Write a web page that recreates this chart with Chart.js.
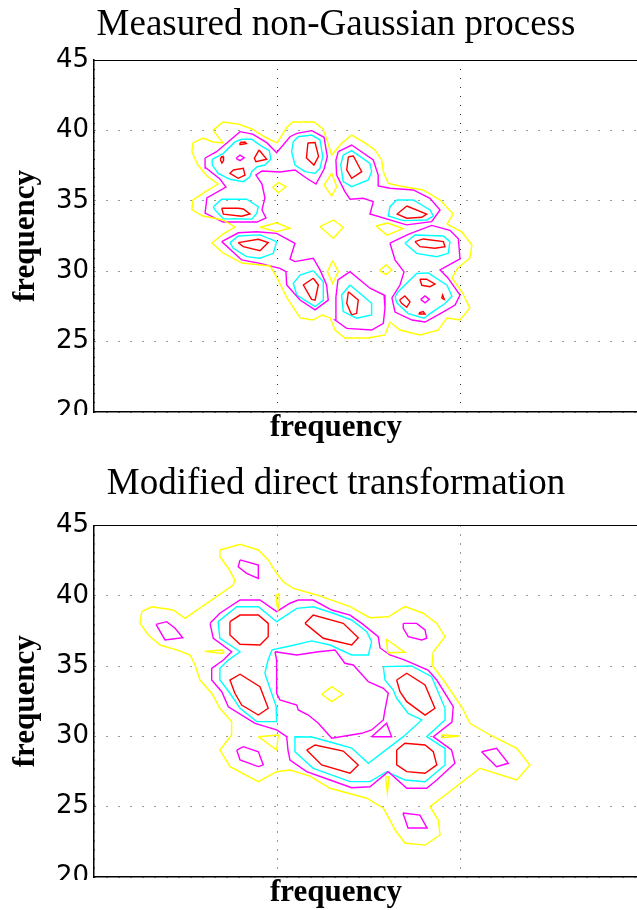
<!DOCTYPE html>
<html>
<head>
<meta charset="utf-8">
<script src="https://cdn.jsdelivr.net/npm/chart.js@4.4.0/dist/chart.umd.min.js"></script>
<style>
  html, body { margin: 0; padding: 0; background: #fff; overflow: hidden; width: 637px; height: 910px; }
  canvas { position: absolute; left: 0; }
  #top { top: 0; }
  #bottom { top: 455px; }
</style>
</head>
<body>
<canvas id="top" width="672" height="455"></canvas>
<canvas id="bottom" width="672" height="455"></canvas>
<script>
// axis ticks
const yTicks = [20, 25, 30, 35, 40, 45];
const xGrid = [20, 30, 40, 50];

// ===== top panel: measured process (contour levels: yellow < magenta < cyan < red) =====
const mYellowOuter = [[26.5,40.0],[27.05,40.6],[27.9,40.45],[28.63,40.1],[29.34,39.53],[30.0,39.11],[30.55,40.24],[30.87,40.6],[32.02,40.6],[32.51,40.1],[32.73,39.32],[32.99,38.25],[33.53,39.08],[34.08,39.67],[34.81,39.11],[35.35,38.61],[35.72,37.9],[35.81,37.07],[36.08,36.24],[36.72,36.05],[37.99,35.77],[38.91,35.06],[39.63,34.06],[39.29,33.35],[40.11,32.78],[40.65,31.86],[40.54,30.94],[39.89,30.23],[39.56,29.52],[40.11,28.52],[40.54,27.39],[40.0,26.53],[39.29,26.68],[38.8,25.82],[37.81,25.47],[36.72,25.82],[36.17,26.39],[35.9,25.47],[34.97,25.26],[33.71,25.26],[33.17,25.82],[32.9,26.68],[32.46,26.89],[31.97,26.53],[31.26,26.68],[30.55,28.1],[30.0,29.52],[29.62,30.37],[28.09,30.58],[27.05,31.29],[26.45,32.0],[27.05,32.64],[27.7,33.14],[27.05,33.64],[25.96,33.92],[25.35,34.35],[25.41,35.06],[26.07,35.63],[26.78,36.19],[26.17,36.76],[25.68,37.54],[25.35,38.47],[25.41,39.11],[25.96,39.46],[26.5,39.18],[27.05,39.11]];
const mYellowA = [[29.76,35.96],[30.07,36.29],[30.49,36.0],[30.07,35.58]];
const mYellowB = [[32.57,36.12],[32.99,36.95],[33.26,36.0],[32.99,35.34]];
const mYellowC = [[32.35,33.16],[33.08,33.64],[33.62,33.12],[33.08,32.34]];
const mYellowD = [[29.07,33.12],[29.98,33.44],[30.71,33.05],[29.98,32.81]];
const mYellowE = [[33.04,30.75],[33.35,29.97],[33.04,29.14],[32.75,29.97]];
const mYellowF = [[35.59,30.04],[35.96,30.44],[36.27,30.09],[35.96,29.78]];
const mYellowG = [[35.41,33.21],[36.06,33.42],[36.88,33.03],[36.01,32.56]];

const mMagentaNW = [[26.07,38.04],[26.7,38.49],[27.98,39.91],[28.67,39.74],[29.44,39.13],[29.98,38.42],[30.71,39.55],[31.08,39.79],[31.9,39.98],[32.57,39.51],[32.75,38.13],[32.57,37.24],[32.13,36.19],[31.62,36.6],[30.98,37.19],[30.16,37.05],[29.18,37.12],[28.85,36.83],[29.18,36.19],[29.34,35.2],[29.18,34.35],[29.4,33.78],[28.91,33.49],[27.05,33.49],[26.07,34.13],[26.17,35.2],[27.21,35.98],[26.88,36.55],[26.12,37.33]];
const mMagentaNE = [[33.35,38.49],[34.08,38.96],[35.26,37.9],[35.53,36.83],[35.53,36.05],[36.17,35.89],[37.45,35.77],[38.36,35.18],[38.91,34.35],[38.45,33.52],[37.08,33.29],[35.08,34.06],[35.26,34.94],[34.71,35.18],[33.99,35.11],[33.71,35.65],[33.26,36.83],[33.22,37.9]];
const mMagentaSW = [[26.98,32.1],[27.89,32.73],[28.89,32.8],[29.98,32.69],[30.98,31.98],[30.71,30.85],[30.98,30.68],[31.98,30.92],[32.35,30.09],[32.71,29.02],[32.8,27.95],[32.08,27.25],[31.26,27.95],[30.53,29.02],[30.49,29.97],[30.16,30.2],[29.07,30.56],[28.07,30.8]];
const mMagentaS = [[33.33,29.38],[33.99,29.97],[35.08,28.79],[35.85,28.31],[35.9,27.39],[35.81,26.3],[35.17,25.82],[33.81,25.94],[33.17,26.53],[33.22,28.17]];
const mMagentaSE = [[36.17,32.0],[37.17,32.62],[38.45,33.25],[39.45,32.9],[39.91,32.3],[40.0,30.88],[38.91,30.09],[39.34,29.52],[40.0,28.31],[39.73,27.6],[39.07,27.1],[38.09,26.39],[37.38,26.53],[36.45,27.1],[36.28,28.1],[36.72,29.02],[36.94,29.95],[36.45,30.8]];
const mMagentaDot1 = [[27.76,38.02],[27.98,38.25],[28.21,38.06],[27.98,37.85]];
const mMagentaDot2 = [[37.85,28.0],[38.09,28.24],[38.32,28.0],[38.09,27.76]];

const mCyanNW = [[26.46,37.95],[27.07,38.37],[27.7,39.18],[28.07,39.37],[28.62,39.37],[29.07,38.96],[29.58,38.56],[29.66,37.95],[29.34,37.54],[28.92,37.42],[28.62,37.07],[28.52,36.71],[28.16,36.36],[27.43,36.53],[26.79,36.95],[26.46,37.54]];
const mCyanN = [[30.89,39.2],[31.16,39.55],[31.9,39.67],[32.35,39.32],[32.5,38.13],[32.35,37.31],[32.08,36.95],[31.53,37.07],[30.98,37.54],[30.8,38.49]];
const mCyanW = [[26.52,34.58],[26.98,35.11],[28.34,35.11],[28.98,34.58],[28.89,34.11],[28.62,33.7],[27.07,33.72],[26.61,34.35]];
const mCyanNE = [[33.62,38.25],[34.08,38.56],[35.08,37.66],[35.17,37.07],[34.99,36.48],[34.08,36.0],[33.62,36.36],[33.48,37.54]];
const mCyanE = [[36.54,35.06],[37.45,35.06],[38.36,34.35],[38.54,33.92],[38.18,33.64],[36.9,33.59],[36.08,33.92],[36.17,34.58]];
const mCyanSW1 = [[27.43,32.03],[27.89,32.5],[29.07,32.58],[29.98,32.1],[29.8,31.27],[29.07,30.92],[28.34,31.03],[27.61,31.63]];
const mCyanSW2 = [[31.98,30.04],[32.53,29.25],[32.53,27.95],[32.08,27.48],[31.08,28.31],[30.89,29.14],[31.26,29.72]];
const mCyanS = [[33.99,29.02],[35.17,27.72],[35.17,26.89],[34.35,26.66],[33.62,27.13],[33.53,28.31]];
const mCyanSE1 = [[36.99,31.98],[37.54,32.57],[39.09,32.5],[39.45,32.1],[39.36,31.27],[38.72,31.03],[37.63,31.27]];
const mCyanSE2 = [[36.45,28.17],[36.62,28.54],[37.63,29.84],[38.27,29.88],[39.29,29.0],[39.56,28.22],[39.18,27.7],[38.36,26.99],[38.03,26.66],[37.17,26.99],[36.56,27.74]];

const mRed = [
  [[27.98,39.14],[28.25,39.18],[28.33,39.07],[28.03,39.0]],
  [[26.94,38.11],[27.05,38.15],[27.08,37.86],[26.99,37.68],[26.91,37.9]],
  [[29.02,38.61],[29.44,37.95],[28.85,37.78],[28.76,38.02]],
  [[27.61,37.19],[28.16,37.31],[28.25,36.83],[27.88,36.6],[27.43,36.95]],
  [[31.69,39.11],[32.08,39.14],[32.27,38.15],[32.02,37.54],[31.61,38.04]],
  [[26.98,34.47],[27.88,34.47],[28.16,34.42],[28.52,34.06],[28.07,33.9],[27.07,34.05]],
  [[33.9,38.13],[34.17,38.18],[34.63,37.07],[34.08,36.6],[33.81,37.19]],
  [[37.09,34.63],[38.18,34.06],[37.91,33.83],[37.09,33.76],[36.57,34.06]],
  [[27.88,32.03],[28.98,32.27],[29.52,32.03],[29.07,31.46],[28.16,31.74]],
  [[31.98,29.5],[32.26,29.02],[32.08,27.95],[31.89,28.0],[31.44,29.02]],
  [[33.9,28.54],[34.44,27.95],[34.35,27.01],[34.08,26.89],[33.81,27.72]],
  [[37.54,32.1],[37.99,32.29],[39.09,32.1],[39.18,31.74],[38.63,31.63],[37.81,31.74]],
  [[37.81,29.43],[38.17,29.43],[38.63,29.09],[38.36,28.9],[37.91,29.0]],
  [[36.7,27.95],[36.99,28.24],[37.27,27.83],[37.09,27.44],[36.81,27.72]],
  [[39.0,28.08],[39.05,28.31],[39.14,28.0]],
  [[37.77,27.05],[37.99,27.13],[38.09,26.96],[37.81,26.96]]
];

// ===== bottom panel: modified direct transformation =====
const dYellowOuter = [[26.88,43.26],[27.98,43.66],[28.98,43.26],[29.52,42.55],[29.98,41.6],[30.34,41.0],[30.89,40.53],[32.17,40.06],[33.99,39.23],[35.08,38.44],[36.08,38.51],[36.99,39.23],[37.99,38.76],[38.73,38.04],[39.18,37.09],[38.54,36.02],[38.47,35.08],[39.09,34.01],[40.09,32.11],[40.54,30.93],[41.64,30.1],[43.1,29.15],[43.82,27.97],[43.1,26.9],[41.09,27.73],[38.36,25.0],[38.81,24.05],[38.91,22.99],[38.09,22.27],[36.99,22.42],[36.45,23.34],[36.17,24.05],[35.81,24.89],[34.9,25.6],[32.9,26.31],[31.8,27.18],[30.71,27.61],[29.98,27.49],[28.98,26.78],[27.43,27.85],[26.88,29.03],[27.52,30.1],[27.52,31.05],[26.88,32.0],[26.43,33.07],[25.79,34.01],[25.52,35.08],[25.25,35.79],[24.52,36.15],[23.61,36.5],[22.97,37.21],[22.51,38.04],[22.61,38.87],[23.15,39.22],[24.33,38.99],[24.97,38.4],[27.61,40.77],[27.7,41.12],[27.34,41.96],[26.88,42.78]];
const dYellowCentre = [[32.44,33.0],[32.99,33.54],[33.59,33.0],[32.99,32.47]];
const dYellowS1 = [[26.05,36.05],[27.0,36.15],[27.1,36.0],[27.0,35.9]];
const dYellowS2 = [[29.94,40.06],[30.11,40.13],[30.13,39.63],[30.05,38.99],[29.97,39.63]];
const dYellowS3 = [[39.0,30.1],[40.0,30.03],[39.0,29.91]];
const dYellowS4 = [[35.93,27.11],[36.12,27.11],[36.03,25.98]];
const dYellowT1 = [[28.98,29.98],[30.07,30.1],[29.98,29.03]];
const dYellowT2 = [[35.96,36.93],[36.99,35.98],[36.06,35.95]];

const dMagentaOuter = [[26.34,38.04],[26.88,38.76],[27.98,39.7],[29.07,39.7],[29.98,38.87],[30.71,39.47],[31.16,39.7],[31.98,39.7],[32.99,38.99],[33.99,38.63],[34.63,38.04],[35.53,37.09],[35.63,36.29],[36.17,35.79],[36.99,35.43],[38.25,34.72],[38.73,34.01],[39.63,32.11],[39.56,31.02],[38.54,29.98],[39.54,29.03],[39.72,28.09],[38.73,26.9],[38.18,26.31],[37.09,26.31],[36.08,27.49],[35.08,26.42],[34.08,26.35],[32.9,26.9],[31.62,27.49],[30.71,28.32],[30.6,29.03],[30.53,29.98],[29.98,30.46],[28.8,30.93],[27.34,32.11],[26.98,33.18],[26.43,34.01],[26.43,34.84],[27.07,35.43],[27.52,36.02],[26.52,36.98]];
const dMagentaCentre = [[29.89,36.02],[31.08,35.79],[32.26,36.02],[33.17,36.15],[33.71,35.2],[34.17,35.08],[34.99,33.89],[35.81,33.42],[36.08,33.07],[35.9,31.88],[35.81,31.17],[35.17,30.46],[34.63,30.22],[32.99,29.87],[32.26,30.93],[31.71,31.52],[31.16,31.88],[31.08,32.23],[30.16,32.59],[29.98,33.07],[29.98,35.43]];
const dMagentaQ1 = [[27.98,42.55],[28.98,42.19],[28.98,41.24],[28.34,41.6],[27.88,42.07]];
const dMagentaQ2 = [[23.39,37.97],[23.97,38.16],[24.43,37.69],[24.85,37.02],[23.88,36.86]];
const dMagentaQ3 = [[36.9,38.04],[37.63,38.04],[38.09,37.57],[38.18,36.98],[37.91,36.86],[37.17,37.09],[36.9,37.69]];
const dMagentaQ4 = [[27.8,29.03],[28.16,29.27],[28.98,28.91],[29.25,27.97],[28.98,27.85],[27.98,28.32]];
const dMagentaQ5 = [[41.18,28.91],[42.0,29.15],[42.64,28.09],[42.0,27.85]];
const dMagentaQ6 = [[36.88,24.55],[37.81,24.4],[38.2,23.48],[37.16,23.48]];
const dMagentaTri = [[35.17,29.98],[35.99,30.93],[36.26,29.98]];

const dCyanNW = [[26.78,38.16],[27.8,39.22],[28.98,39.22],[29.98,38.16],[31.08,39.11],[31.98,39.22],[33.08,38.76],[34.08,38.28],[34.9,37.45],[35.17,36.74],[34.99,35.79],[34.08,35.79],[32.9,36.5],[31.9,36.79],[30.71,36.43],[29.73,36.15],[29.51,35.43],[29.34,34.51],[29.4,34.23],[29.95,32.16],[29.98,31.05],[28.89,31.05],[27.98,32.0],[27.43,33.07],[26.88,34.01],[26.88,34.84],[27.34,35.43],[27.98,36.02],[27.43,36.5],[26.88,36.98]];
const dCyanSE = [[35.81,34.96],[37.36,35.01],[38.45,34.25],[39.18,32.0],[39.18,31.17],[38.18,29.98],[39.18,29.15],[39.18,27.97],[38.09,26.78],[36.99,26.9],[35.99,27.49],[35.08,26.78],[33.99,26.78],[31.98,27.73],[30.98,28.91],[30.98,29.98],[31.91,29.96],[32.9,29.6],[34.08,29.17],[34.99,28.09],[36.9,29.98],[37.91,31.17],[37.17,31.64],[36.54,32.71],[36.35,33.3],[35.9,34.01]];

const dRed = [
  [[27.43,38.16],[27.98,38.63],[28.98,38.63],[29.52,38.04],[29.52,37.09],[29.07,36.5],[27.98,36.55],[27.43,37.21]],
  [[31.53,38.04],[31.98,38.63],[33.62,38.04],[34.44,37.02],[34.08,36.5],[32.53,36.98]],
  [[27.7,33.07],[27.43,34.01],[27.98,34.42],[29.07,33.54],[29.52,32.0],[28.98,31.52],[28.07,32.23]],
  [[36.54,34.01],[37.09,34.49],[38.09,33.66],[38.63,32.0],[38.09,31.52],[37.09,32.47],[36.72,33.18]],
  [[31.62,29.03],[32.08,29.39],[33.62,28.96],[34.44,27.97],[33.99,27.38],[32.44,27.97]],
  [[36.54,29.03],[36.99,29.51],[38.09,29.39],[38.54,28.91],[38.73,27.97],[38.09,27.38],[37.09,27.49],[36.54,27.97]]
];

const YELLOW = '#ffff00', MAGENTA = '#ff00ff', CYAN = '#00ffff', RED = '#ff0000';

function loop(pts){ return pts.concat([pts[0]]).map(([x, y]) => ({ x, y })); }

function contourSets(groups){
  const out = [];
  for (const [color, list] of groups){
    for (const pts of list){
      out.push({ data: loop(pts), borderColor: color, borderWidth: 1.4, showLine: true,
                 pointRadius: 0, pointHoverRadius: 0, fill: false, tension: 0 });
    }
  }
  return out;
}

const topSets = contourSets([
  [YELLOW, [mYellowOuter, mYellowA, mYellowB, mYellowC, mYellowD, mYellowE, mYellowF, mYellowG]],
  [MAGENTA, [mMagentaNW, mMagentaNE, mMagentaSW, mMagentaS, mMagentaSE, mMagentaDot1, mMagentaDot2]],
  [CYAN, [mCyanNW, mCyanN, mCyanW, mCyanNE, mCyanE, mCyanSW1, mCyanSW2, mCyanS, mCyanSE1, mCyanSE2]],
  [RED, mRed]
]);
const bottomSets = contourSets([
  [YELLOW, [dYellowOuter, dYellowCentre, dYellowS1, dYellowS2, dYellowS3, dYellowS4, dYellowT1, dYellowT2]],
  [MAGENTA, [dMagentaOuter, dMagentaCentre, dMagentaQ1, dMagentaQ2, dMagentaQ3, dMagentaQ4, dMagentaQ5, dMagentaQ6, dMagentaTri]],
  [CYAN, [dCyanNW, dCyanSE]],
  [RED, dRed]
]);

// the lowest tick label is cut in half in the original figure
const cutLowLabel = {
  id: 'cutLowLabel',
  afterDraw(chart){
    const { ctx, chartArea } = chart;
    ctx.save();
    ctx.fillStyle = '#fff';
    ctx.fillRect(0, chartArea.bottom + 3, chartArea.left - 1, 24);
    ctx.restore();
  }
};

function makePanel(id, title, datasets, titlePad, subPad){
  return new Chart(document.getElementById(id), {
    type: 'scatter',
    data: { datasets },
    options: {
      responsive: false, animation: false, devicePixelRatio: 1,
      layout: { padding: 0 },
      plugins: {
        legend: { display: false },
        tooltip: { enabled: false },
        title: { display: true, text: title, color: '#000', padding: titlePad,
                 font: { family: 'Liberation Serif', size: 37, weight: 'normal', lineHeight: 1 } },
        subtitle: { display: true, position: 'bottom', text: 'frequency', color: '#000', padding: subPad,
                    font: { family: 'Liberation Serif', size: 31, weight: 'bold', lineHeight: 1 } }
      },
      scales: {
        x: {
          type: 'linear', min: xGrid[0], max: xGrid[xGrid.length - 1],
          afterBuildTicks: (s) => { s.ticks = xGrid.map(v => ({ value: v })); },
          ticks: { display: false },
          grid: { color: '#333', lineWidth: 1, drawTicks: false },
          border: { color: '#000', width: 1.5, dash: [1, 8] },
          afterFit: (s) => { s.height = 0; }
        },
        x2: {
          type: 'linear', position: 'top', min: xGrid[0], max: xGrid[xGrid.length - 1],
          ticks: { display: false },
          grid: { display: false, drawTicks: false },
          border: { color: '#000', width: 1 },
          afterFit: (s) => { s.height = 0; }
        },
        y: {
          min: yTicks[0], max: yTicks[yTicks.length - 1],
          afterBuildTicks: (s) => { s.ticks = yTicks.map(v => ({ value: v })); },
          ticks: { color: '#000', padding: 5, font: { family: 'DejaVu Sans', size: 26 } },
          grid: { color: '#333', lineWidth: 1, drawTicks: false },
          border: { color: '#000', width: 1.5, dash: [1, 11] },
          title: { display: true, text: 'frequency', color: '#000', padding: { top: 10, bottom: 0 },
                   font: { family: 'Liberation Serif', size: 31, weight: 'bold', lineHeight: 1 } },
          afterFit: (s) => { s.width = 94; }
        },
        // empty strip on the right, the plot runs on past the picture edge
        y2: {
          position: 'right', min: yTicks[0], max: yTicks[yTicks.length - 1],
          ticks: { display: false },
          grid: { display: false, drawTicks: false },
          border: { display: false },
          afterFit: (s) => { s.width = 29; }
        }
      }
    },
    plugins: [cutLowLabel]
  });
}

makePanel('top', 'Measured non-Gaussian process', topSets, { top: 6.6, bottom: 16.4 }, { top: 0, bottom: 12 });
makePanel('bottom', 'Modified direct transformation', bottomSets, { top: 11.2, bottom: 22.3 }, { top: 0, bottom: 2 });
</script>
</body>
</html>
